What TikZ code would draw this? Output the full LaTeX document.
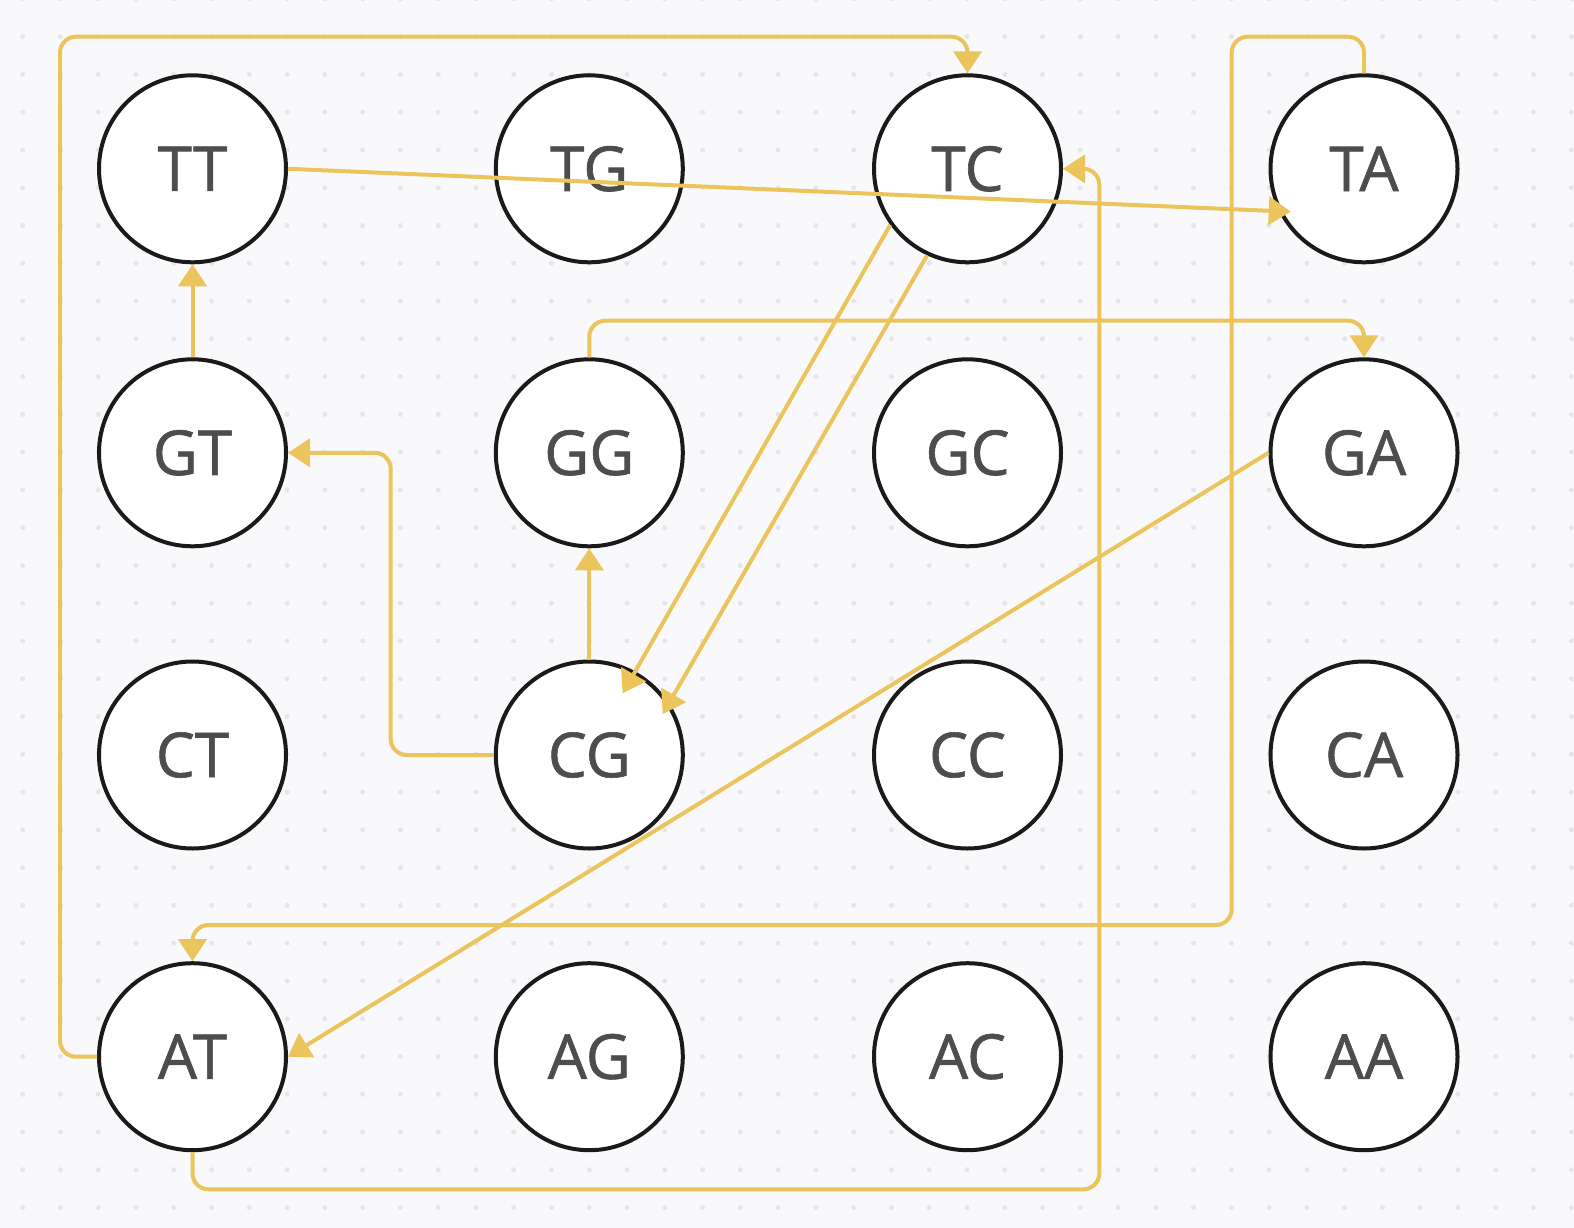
\documentclass[tikz,border=0pt]{standalone}
\usepackage{fontspec}
\setmainfont{Open Sans}
\newfontfamily\labfont{Open Sans}[FakeBold=1]
\usetikzlibrary{arrows.meta,calc}
\definecolor{bgc}{RGB}{249,249,251}
\definecolor{dotc}{RGB}{229,229,234}
\definecolor{edgec}{RGB}{236,196,92}
\definecolor{ringc}{RGB}{26,26,26}
\definecolor{txtc}{RGB}{77,77,77}
\begin{document}
\begin{tikzpicture}[x=1pt,y=-1pt,
  nuc/.style={circle, draw=ringc, line width=4pt, fill=white, minimum size=187pt,
    inner sep=0pt, text=txtc, font=\labfont\fontsize{62}{70}\selectfont},
  edge/.style={draw=edgec, line width=4pt, rounded corners=16pt,
    -{Triangle[width=28pt,length=22pt]}}]
\useasboundingbox (0,0) rectangle (1574,1228);
\fill[bgc] (0,0) rectangle (1574,1228);
\foreach \i in {0,...,41}
  \foreach \j in {0,...,32}
    \fill[dotc] (22.7+37.77*\i, -1.1+37.77*\j) circle (2.5pt);
% nodes
\node[nuc] (TT) at (192.5,168.8) {TT};
\node[nuc] (TG) at (589.3,168.8) {TG};
\node[nuc] (TC) at (967.5,168.8) {TC};
\node[nuc] (TA) at (1364,168.8) {TA};
\node[nuc] (GT) at (192.5,452.8) {GT};
\node[nuc] (GG) at (589.3,452.8) {GG};
\node[nuc] (GC) at (967.5,452.8) {GC};
\node[nuc] (GA) at (1364,452.8) {GA};
\node[nuc] (CT) at (192.5,755) {CT};
\node[nuc] (CG) at (589.3,755) {CG};
\node[nuc] (CC) at (967.5,755) {CC};
\node[nuc] (CA) at (1364,755) {CA};
\node[nuc] (AT) at (192.5,1056.7) {AT};
\node[nuc] (AG) at (589.3,1056.7) {AG};
\node[nuc] (AC) at (967.5,1056.7) {AC};
\node[nuc] (AA) at (1364,1056.7) {AA};
% connectors
\draw[edge] (AT.west) -| (60,36.7) -| (TC.north);
\draw[edge] (TA.north) |- (1231.7,36.7) |- (192.5,925) -- (AT.north);
\draw[edge] (GG.north) |- (1364,320.7) -- (GA.north);
\draw[edge] (AT.south) |- (1099.3,1189.3) |- (TC.east);
\draw[edge] (GT.north) -- (TT.south);
\draw[edge] (CG.north) -- (GG.south);
\draw[edge] (CG.west) -| (390.7,452.8) -- (GT.east);
\draw[edge] (TT.east) -- ($(TA.center)+(-73.3,42.9)$);
\draw[edge] (TC.216.8) -- ($(CG.center)+(33.4,-61.7)$);
\draw[edge] (TC.245.2) -- ($(CG.center)+(73.4,-41)$);
\draw[edge] (GA.west) -- (AT.east);
\end{tikzpicture}
\end{document}
